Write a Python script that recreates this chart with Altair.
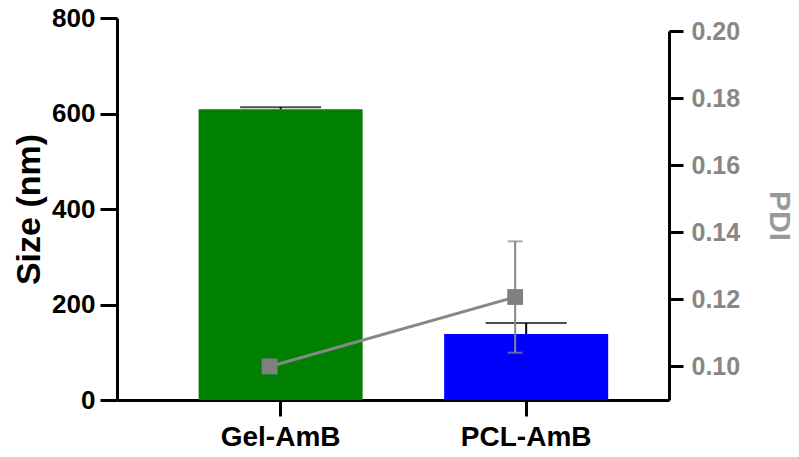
import altair as alt
import pandas as pd

categories = ["Gel-AmB", "PCL-AmB"]
size_mean = [609, 138]
size_err = [4, 23]
pdi_mean = [0.100, 0.1207]
pdi_err = [0.0, 0.0166]
bar_colors = ["#008000", "#0000FF"]
size_ticks = [0, 200, 400, 600, 800]
pdi_ticks = [0.10, 0.12, 0.14, 0.16, 0.18, 0.20]

df = pd.DataFrame({
    "cat": categories,
    "size": size_mean,
    "size_hi": [m + e for m, e in zip(size_mean, size_err)],
    "pdi": pdi_mean,
    "pdi_lo": [m - e for m, e in zip(pdi_mean, pdi_err)],
    "pdi_hi": [m + e for m, e in zip(pdi_mean, pdi_err)],
})

FONT = "Liberation Sans, Arial, Helvetica"
GRAY = "#878787"
OFF = -11

xscale = alt.Scale(domain=categories, paddingInner=0.332, paddingOuter=0.29, align=0.573)
xaxis = alt.Axis(title=None, labelAngle=0, labelFont=FONT, labelFontSize=28,
                 labelFontWeight="bold", labelColor="black", labelPadding=7,
                 tickColor="black", tickWidth=3, tickSize=16,
                 domainColor="black", domainWidth=3)


def X():
    return alt.X("cat:N", scale=xscale, sort=categories, axis=xaxis, title=None)


yscale = alt.Scale(domain=[0, 800])
yaxis = alt.Axis(title="Size (nm)", values=size_ticks, grid=False,
                 labelFont=FONT, labelFontSize=26, labelFontWeight="bold",
                 labelColor="black", labelPadding=5,
                 tickColor="black", tickWidth=3, tickSize=17,
                 domainColor="black", domainWidth=3,
                 titleFont=FONT, titleFontSize=34, titleFontWeight="bold",
                 titleColor="black", titlePadding=5)


def Y(field):
    return alt.Y(field, scale=yscale, axis=yaxis, title="Size (nm)")


bars = alt.Chart(df).mark_bar().encode(
    x=X(),
    y=Y("size:Q"),
    color=alt.Color("cat:N", scale=alt.Scale(domain=categories, range=bar_colors), legend=None),
)
size_rule = alt.Chart(df).mark_rule(color="black", strokeWidth=2).encode(
    x=X(),
    y=Y("size:Q"),
    y2="size_hi:Q",
)
size_cap = alt.Chart(df).mark_tick(color="black", size=81, thickness=2).encode(
    x=X(),
    y=Y("size_hi:Q"),
)
left = alt.layer(bars, size_rule, size_cap)

pscale = alt.Scale(domain=[0.09, 0.20], range=[382, 13])
paxis = alt.Axis(title="PDI", orient="right", values=pdi_ticks, format=".2f",
                 grid=False, labelFont=FONT, labelFontSize=25,
                 labelFontWeight="bold", labelColor=GRAY, labelPadding=8,
                 tickColor="black", tickWidth=3, tickSize=14,
                 domainColor="black", domainWidth=3,
                 titleFont=FONT, titleFontSize=30, titleFontWeight="bold",
                 titleColor="#999999", titlePadding=24)


def P(field):
    return alt.Y(field, scale=pscale, axis=paxis, title="PDI")


pdi_line = alt.Chart(df).mark_line(color=GRAY, strokeWidth=3, xOffset=OFF).encode(
    x=X(), y=P("pdi:Q"),
)
pdi_rule = alt.Chart(df).mark_rule(color=GRAY, strokeWidth=2, xOffset=OFF).encode(
    x=X(), y=P("pdi_lo:Q"), y2="pdi_hi:Q",
)
pdi_cap_lo = alt.Chart(df).mark_tick(color=GRAY, size=15, thickness=2, xOffset=OFF).encode(
    x=X(), y=P("pdi_lo:Q"),
)
pdi_cap_hi = alt.Chart(df).mark_tick(color=GRAY, size=15, thickness=2, xOffset=OFF).encode(
    x=X(), y=P("pdi_hi:Q"),
)
pdi_pts = alt.Chart(df).mark_point(shape="square", filled=True, size=250, opacity=1,
                                   color="#808080", xOffset=OFF).encode(
    x=X(), y=P("pdi:Q"),
)
right = alt.layer(pdi_line, pdi_rule, pdi_cap_lo, pdi_cap_hi, pdi_pts)

chart = alt.layer(left, right).resolve_scale(y="independent").properties(
    width=552, height=382,
    padding={"left": 117, "top": 18, "right": 130, "bottom": 57},
    autosize=alt.AutoSizeParams(type="none"),
    background="white",
).configure_view(stroke=None)

chart.save("out.html", embed_options={"renderer": "svg", "actions": False})
